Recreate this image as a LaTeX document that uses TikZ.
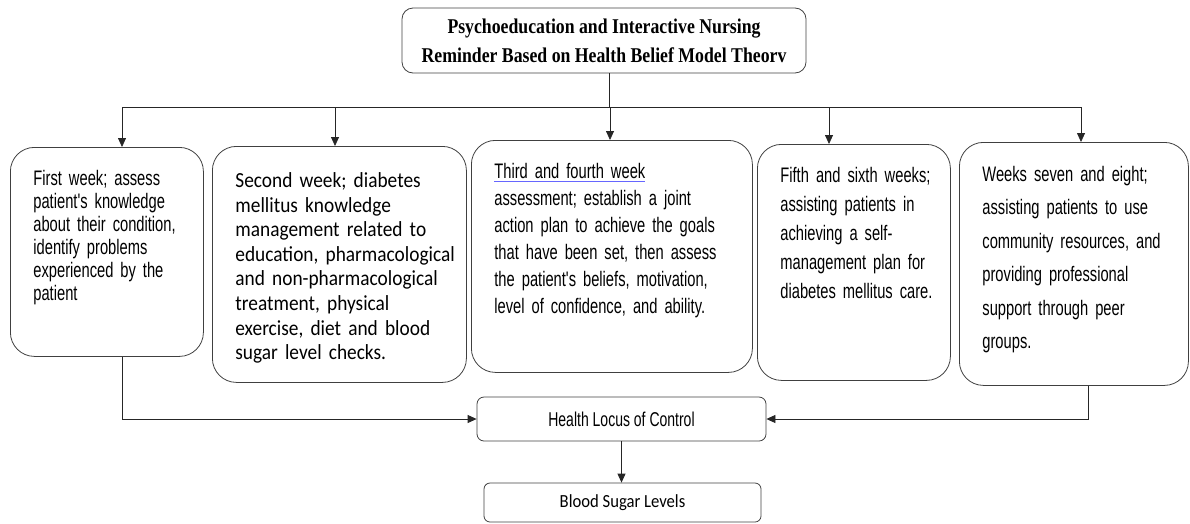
\documentclass[tikz,border=0pt]{standalone}
\usepackage{fontspec}
\usetikzlibrary{arrows.meta}

\newfontfamily\arialfont{Liberation Sans}[FakeStretch=0.7]
\newfontfamily\calibrifont{Carlito}[FakeStretch=0.9]
\newfontfamily\timesfont{Liberation Serif}[FakeStretch=0.845]
\newsavebox\spellbox
\newcommand{\spellmark}[1]{\sbox\spellbox{#1}\rlap{\color{blue!60}\rule[-3.5pt]{\wd\spellbox}{1.4pt}}\usebox\spellbox}

\begin{document}
\begin{tikzpicture}[x=1pt,y=-1pt,
    weekbox/.style={draw=black!75, line width=0.8pt, anchor=north west, rounded corners=24pt,
      inner sep=0pt, align=left, execute at begin node={\leftskip=23pt}},
    smallbox/.style={draw=black!75, line width=0.8pt, rounded corners=7pt, inner sep=0pt},
    link/.style={line width=0.8pt, draw=black!85},
    arrowlink/.style={link, -{Triangle[length=9pt,width=8pt]}}]
  \useasboundingbox (0,0) rectangle (1190,523);

  % title
  \node[smallbox, rounded corners=11pt, minimum width=404pt, minimum height=65pt, align=center,
    font=\timesfont\bfseries\fontsize{21}{29}\selectfont] (title) at (604,40.5)
    {Psychoeducation and Interactive Nursing\\Reminder Based on Health Belief Model Theorv};

  % the five stages
  \node[weekbox, text width=193pt, text height=38pt, text depth=171pt,
    font=\arialfont\fontsize{21}{23}\selectfont] (w1) at (10,147)
    {First week; assess\\ patient's knowledge\\ about their condition,\\ identify problems\\
     experienced by the\\ patient};
  \node[weekbox, text width=254pt, text height=41pt, text depth=195pt,
    font=\calibrifont\fontsize{21.5}{24.6}\selectfont] (w2) at (212,146)
    {Second week; diabetes\\ mellitus knowledge\\ management related to\\ education, pharmacological\\
     and non-pharmacological\\ treatment, physical\\ exercise, diet and blood\\ sugar level checks.};
  \node[weekbox, text width=281pt, text height=38pt, text depth=194pt,
    font=\arialfont\fontsize{21}{27}\selectfont] (w3) at (471,140)
    {\spellmark{Third and fourth week}\\ assessment; establish a joint\\ action plan to achieve the goals\\
     that have been set, then assess\\ the patient's beliefs, motivation,\\ level of confidence, and ability.};
  \node[weekbox, text width=193pt, text height=38pt, text depth=198pt,
    font=\arialfont\fontsize{21}{29}\selectfont] (w4) at (757,144)
    {Fifth and sixth weeks;\\ assisting patients in\\ achieving a self-\\ management plan for\\
     diabetes mellitus care.};
  \node[weekbox, text width=229pt, text height=39pt, text depth=204pt,
    font=\arialfont\fontsize{21}{33.5}\selectfont] (w5) at (959,142)
    {Weeks seven and eight;\\ assisting patients to use\\ community resources, and\\
     providing professional\\ support through peer\\ groups.};

  % outcomes
  \node[smallbox, minimum width=289pt, minimum height=44pt,
    font=\arialfont\fontsize{20}{22}\selectfont] (hlc) at (621.5,419) {Health Locus of Control};
  \node[smallbox, rounded corners=6pt, minimum width=277pt, minimum height=39pt,
    font=\calibrifont\fontsize{18.5}{22}\selectfont] (bsl) at (622.5,502.5) {Blood Sugar Levels};

  % connectors
  \coordinate (split) at (609,107);
  \coordinate (barL) at (122,107);
  \coordinate (barR) at (1081,107);
  \draw[link] (split |- title.south) -- (split);
  \draw[link] (barL) -- (barR);
  \foreach \wk/\xpos in {w1/122, w2/335, w3/610, w4/829, w5/1081} {
    \coordinate (a\wk) at (\xpos,107);
    \draw[arrowlink] (a\wk) -- (a\wk |- \wk.north);
  }
  \coordinate (d1) at (122,0);
  \coordinate (d5) at (1088,0);
  \draw[arrowlink] (d1 |- w1.south) |- (hlc.west);
  \draw[arrowlink] (d5 |- w5.south) |- (hlc.east);
  \draw[arrowlink] (hlc.south) -- (hlc.south |- bsl.north);
\end{tikzpicture}
\end{document}
